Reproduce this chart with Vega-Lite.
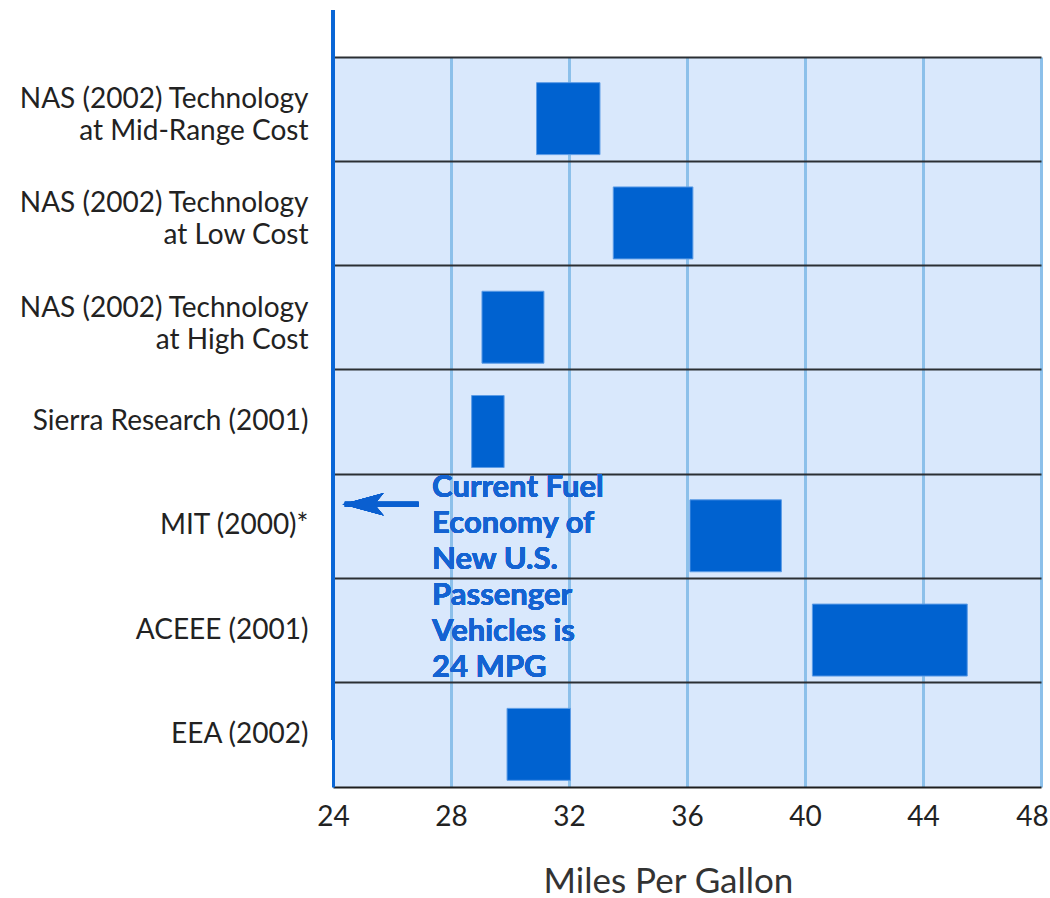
{
  "$schema": "https://vega.github.io/schema/vega-lite/v6.json",
  "autosize": {"type": "none"},
  "padding": {"left": 333, "top": 57, "right": 9, "bottom": 111},
  "width": 708,
  "height": 730,
  "background": "white",
  "config": {
    "view": {"fill": "#d9e8fc", "stroke": null},
    "font": "Lato"
  },
  "data": {
    "values": [
      {"study": "NAS (2002) Technology at Mid-Range Cost", "low": 30.9, "high": 33.05},
      {"study": "NAS (2002) Technology at Low Cost", "low": 33.5, "high": 36.2},
      {"study": "NAS (2002) Technology at High Cost", "low": 29.05, "high": 31.15},
      {"study": "Sierra Research (2001)", "low": 28.7, "high": 29.8},
      {"study": "MIT (2000)*", "low": 36.1, "high": 39.2},
      {"study": "ACEEE (2001)", "low": 40.25, "high": 45.5},
      {"study": "EEA (2002)", "low": 29.9, "high": 32.05}
    ]
  },
  "encoding": {
    "y": {
      "field": "study",
      "type": "nominal",
      "sort": null,
      "scale": {"paddingInner": 0, "paddingOuter": 0},
      "axis": {
        "title": null,
        "ticks": false,
        "domain": true,
        "domainColor": "#0a66d6",
        "domainWidth": 3,
        "grid": true,
        "bandPosition": 0,
        "gridColor": "#2b2f33",
        "gridWidth": 2,
        "labelFont": "Lato",
        "labelFontSize": 28,
        "labelColor": "#222222",
        "labelPadding": 25,
        "labelLineHeight": 32,
        "labelLimit": 400,
        "labelOffset": {"condition": {"test": "indexof(datum.label, ' at ') > 0", "value": -9}, "value": 0},
        "labelExpr": "indexof(datum.label, ' at ') > 0 ? [substring(datum.label, 0, indexof(datum.label, ' at ')), substring(datum.label, indexof(datum.label, ' at ') + 1)] : datum.label"
      }
    }
  },
  "layer": [
    {
      "mark": {"type": "bar", "color": "#0062d0", "stroke": "#5c9ce6", "strokeWidth": 1, "height": {"band": 0.69}, "yOffset": 9.5},
      "encoding": {
        "x": {
          "field": "low",
          "type": "quantitative",
          "scale": {"domain": [24, 48], "nice": false, "zero": false},
          "axis": {
            "title": "Miles Per Gallon",
            "values": [24, 28, 32, 36, 40, 44, 48],
            "ticks": false,
            "domain": true,
            "domainColor": "#1e1e1e",
            "domainWidth": 2,
            "grid": true,
            "gridColor": {"condition": {"test": "datum.value == 24", "value": "transparent"}, "value": "#8cc0ea"},
            "gridWidth": 3,
            "labelFont": "Lato",
            "labelFontSize": 28,
            "labelColor": "#222222",
            "labelPadding": 16,
            "labelFlush": false,
            "labelOffset": {"condition": {"test": "datum.value == 48", "value": -9}, "value": 0},
            "titleFont": "Lato",
            "titleFontSize": 35,
            "titleFontWeight": "normal",
            "titleColor": "#333333",
            "titlePadding": 33,
            "titleX": 335
          }
        },
        "x2": {"field": "high"}
      }
    },
    {
      "mark": {"type": "rule", "color": "#0a66d6", "strokeWidth": 3, "yOffset": -47, "y2Offset": -47},
      "encoding": {"x": {"datum": 24}, "y": {"value": 0}, "y2": {"value": "height"}}
    },
    {
      "mark": {"type": "rule", "color": "#0a5fd0", "strokeWidth": 5, "yOffset": -22},
      "encoding": {
        "x": {"datum": 24.4},
        "x2": {"datum": 26.9},
        "y": {"datum": "MIT (2000)*"}
      }
    },
    {
      "mark": {"type": "point", "shape": "M-1,0 L1,-0.55 L0.55,0 L1,0.55 Z", "size": 1700, "filled": true, "opacity": 1, "color": "#0a5fd0", "yOffset": -22},
      "encoding": {
        "x": {"datum": 25.02},
        "y": {"datum": "MIT (2000)*"}
      }
    },
    {
      "mark": {
        "type": "text",
        "text": "Current Fuel\nEconomy of\nNew U.S.\nPassenger\nVehicles is\n24 MPG",
        "lineBreak": "\n",
        "lineHeight": 36,
        "font": "Lato",
        "fontSize": 31,
        "fontWeight": "bold",
        "color": "#1463d2",
        "align": "left",
        "baseline": "top",
        "dy": -53
      },
      "encoding": {
        "x": {"datum": 27.36},
        "y": {"datum": "MIT (2000)*"}
      }
    }
  ]
}
